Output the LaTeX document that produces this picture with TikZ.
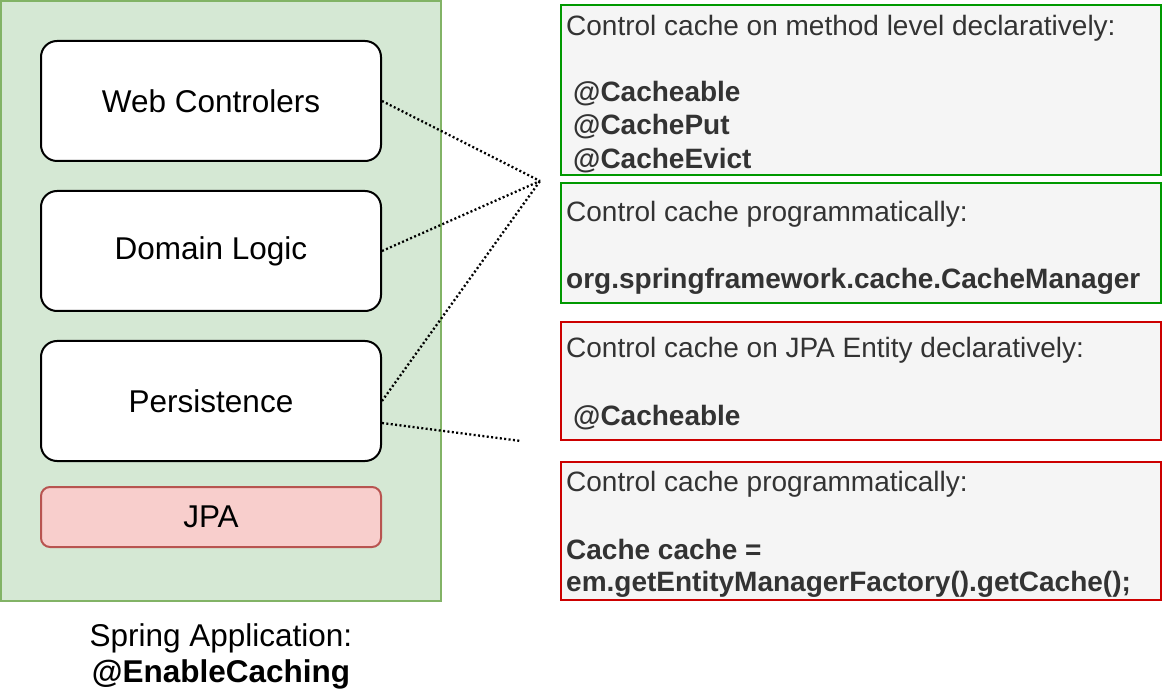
\documentclass[tikz,border=0pt]{standalone}
\usepackage{fontspec}
\setmainfont{Liberation Sans}
\definecolor{appfill}{HTML}{D5E8D4}
\definecolor{appline}{HTML}{82B366}
\definecolor{jpafill}{HTML}{F8CECC}
\definecolor{jpaline}{HTML}{B85450}
\definecolor{notefill}{HTML}{F5F5F5}
\definecolor{notegreen}{HTML}{009900}
\definecolor{notered}{HTML}{CC0000}
\definecolor{notetext}{HTML}{333333}
\tikzset{
  appbox/.style={draw=appline, fill=appfill, line width=2pt, minimum width=440pt, minimum height=600pt, inner sep=0pt},
  layerbox/.style={draw=black, fill=white, line width=2pt, rounded corners=16pt, minimum width=340pt, minimum height=120pt, inner sep=0pt, font=\fontsize{31.5}{36}\selectfont},
  jpabox/.style={draw=jpaline, fill=jpafill, line width=2pt, rounded corners=9pt, minimum width=340pt, minimum height=60pt, inner sep=0pt, font=\fontsize{31.5}{36}\selectfont},
  notebox/.style={fill=notefill, line width=2pt, minimum width=600pt, inner sep=0pt},
  noteline/.style={anchor=base west, inner sep=0pt, text=notetext, font=\fontsize{28}{33}\selectfont},
  notebold/.style={noteline, font=\fontsize{28}{33}\selectfont\bfseries},
  caption/.style={anchor=base, inner sep=0pt, font=\fontsize{31.5}{36}\selectfont},
  link/.style={draw=black, line width=2.3pt, dash pattern=on 2pt off 2.4pt}
}
\begin{document}
\begin{tikzpicture}[x=1pt,y=-1pt]
\useasboundingbox (0,0) rectangle (1162,692);
% left application
\node[appbox] (app) at (221,301) {};
\node[layerbox] (web) at (211,101) {Web Controlers};
\node[layerbox] (dom) at (211,251) {Domain Logic};
\node[layerbox] (pers) at (211,401) {Persistence};
\node[jpabox] (jpa) at (211,517) {JPA};
\node[caption] (cap1) at (221,646) {Spring Application:};
\node[caption, font=\fontsize{31.5}{36}\selectfont\bfseries] (cap2) at (221,682) {@EnableCaching};
% right notes
\node[notebox, draw=notegreen, minimum height=170pt] (n1) at (861,90) {};
\node[notebox, draw=notegreen, minimum height=120pt] (n2) at (861,243) {};
\node[notebox, draw=notered, minimum height=118pt] (n3) at (861,381) {};
\node[notebox, draw=notered, minimum height=138pt] (n4) at (861,531) {};
\node[noteline] (n1a) at (566,36) {Control cache on method level declaratively:};
\node[notebold] (n1b) at (573,102) {@Cacheable};
\node[notebold] (n1c) at (573,135) {@CachePut};
\node[notebold] (n1d) at (573,169) {@CacheEvict};
\node[noteline] (n2a) at (566,222) {Control cache programmatically:};
\node[notebold] (n2b) at (566,289) {org.springframework.cache.CacheManager};
\node[noteline] (n3a) at (566,358) {Control cache on JPA Entity declaratively:};
\node[notebold] (n3b) at (573,425) {@Cacheable};
\node[noteline] (n4a) at (566,491) {Control cache programmatically:};
\node[notebold] (n4b) at (566,559) {Cache cache =};
\node[notebold] (n4c) at (566,591) {em.getEntityManagerFactory().getCache();};
% connectors
\coordinate (hub) at (540,181);
\coordinate (jpaend) at (521,441);
\draw[link] (web.east) -- (hub);
\draw[link] (dom.east) -- (hub);
\draw[link] (pers.east) -- (hub);
\draw[link] ([yshift=-22pt]pers.east) -- (jpaend);
\end{tikzpicture}
\end{document}
